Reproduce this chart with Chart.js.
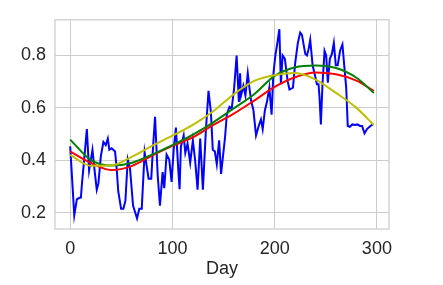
<!DOCTYPE html>
<html>
<head>
<meta charset="utf-8">
<script src="https://cdn.jsdelivr.net/npm/chart.js@4"></script>
<style>
  body { margin: 0; background: #fff; }
  canvas { display: block; }
</style>
</head>
<body>
<canvas id="grafica" width="443" height="285"></canvas>
<script>
// serie diaria (azul)
const diasDiarios = [0, 4, 6.5, 9, 10.5, 11.4, 13.7, 16.3, 18.5, 21.8, 23.7, 26, 27.6, 30, 32.5, 34.8, 36.8, 38.3, 40.6, 43.9,
  45.5, 47, 49.8, 52, 54, 56.3, 58.5, 61.5, 65.4, 67.6, 70, 72.8, 76.7, 79.3, 80.7, 83, 85.6, 87.8, 90.4, 92,
  94.3, 96.9, 99.2, 101.2, 103.4, 105.7, 107, 108.3, 111, 112.6, 114.8, 117.4, 120, 122.3, 124.6, 127.2, 129.8, 132.7, 135.3, 137.6,
  139.5, 141.5, 143.4, 145.7, 147.6, 151.5, 153.2, 155.8, 158, 160.3, 162.8, 165, 166.2, 167.1, 169.4, 171.4, 173.7, 175.3, 176.9, 179.2,
  181.8, 184.4, 186.6, 188.3, 190.5, 192.5, 194.8, 197, 198.7, 200.7, 202.9, 204.6, 206.1, 207.8, 210, 212.7, 214.5, 217.9, 220.2, 222.7,
  225, 226.7, 228.3, 230, 231.6, 233.2, 234.8, 237.1, 239.7, 241.3, 242.9, 243.9, 245.2, 246.8, 248.8, 250.4, 252, 254, 256, 257.9,
  259.8, 261.7, 264, 266.3, 268.3, 270, 271.5, 273.5, 276, 278.5, 281, 283.5, 285.5, 287.9, 290.5, 293.7, 296];
const valoresDiarios = [0.453, 0.19, 0.251, 0.257, 0.258, 0.306, 0.403, 0.519, 0.361, 0.44, 0.367, 0.288, 0.312, 0.416, 0.47, 0.458, 0.483, 0.44, 0.446, 0.434,
  0.367, 0.282, 0.215, 0.215, 0.245, 0.403, 0.37, 0.227, 0.178, 0.215, 0.215, 0.43, 0.33, 0.33, 0.428, 0.566, 0.343, 0.227, 0.355, 0.294,
  0.422, 0.403, 0.318, 0.44, 0.525, 0.367, 0.29, 0.452, 0.495, 0.428, 0.464, 0.391, 0.476, 0.397, 0.288, 0.483, 0.288, 0.513, 0.665, 0.586,
  0.44, 0.434, 0.385, 0.476, 0.348, 0.489, 0.574, 0.604, 0.598, 0.672, 0.8, 0.623, 0.732, 0.647, 0.684, 0.647, 0.732, 0.677, 0.629, 0.592,
  0.495, 0.531, 0.556, 0.519, 0.592, 0.623, 0.677, 0.574, 0.726, 0.8, 0.854, 0.9, 0.69, 0.8, 0.787, 0.702, 0.67, 0.677, 0.775, 0.848,
  0.887, 0.878, 0.842, 0.806, 0.8, 0.824, 0.86, 0.763, 0.72, 0.69, 0.69, 0.641, 0.537, 0.69, 0.818, 0.8, 0.696, 0.787, 0.806, 0.848,
  0.763, 0.763, 0.818, 0.842, 0.751, 0.677, 0.531, 0.528, 0.537, 0.535, 0.537, 0.531, 0.531, 0.503, 0.52, 0.531, 0.537];

// curvas suavizadas
const diasCurvas = [0, 20, 40, 60, 80, 100, 120, 140, 160, 180, 200, 220, 240, 260, 280, 297];
const valoresRojo = [0.434, 0.39, 0.363, 0.378, 0.418, 0.455, 0.488, 0.535, 0.578, 0.628, 0.68, 0.717, 0.735, 0.728, 0.704, 0.665];
const valoresVerde = [0.479, 0.402, 0.38, 0.39, 0.422, 0.458, 0.498, 0.545, 0.598, 0.652, 0.722, 0.755, 0.762, 0.752, 0.715, 0.657];
const valoresAmarillo = [0.421, 0.379, 0.38, 0.413, 0.455, 0.494, 0.535, 0.587, 0.652, 0.703, 0.725, 0.733, 0.708, 0.657, 0.6, 0.535];

// ticks de los ejes
const ticksX = [0, 100, 200, 300];
const ticksY = [0.2, 0.4, 0.6, 0.8];

const aPuntos = (xs, ys) => xs.map((x, i) => ({ x: x, y: ys[i] }));

const colorTexto = '#262626';
const colorGrilla = '#cccccc';
const fuente = { family: "'Liberation Sans', Arial, sans-serif", size: 18 };

// marco gris alrededor del area del grafico
const marco = {
  id: 'marco',
  afterDraw(chart) {
    const { ctx, chartArea } = chart;
    ctx.save();
    ctx.strokeStyle = colorGrilla;
    ctx.lineWidth = 1.25;
    ctx.strokeRect(chartArea.left, chartArea.top, chartArea.right - chartArea.left, chartArea.bottom - chartArea.top);
    ctx.restore();
  }
};

const curva = (datos, color) => ({
  data: aPuntos(diasCurvas, datos),
  borderColor: color,
  borderWidth: 2,
  pointRadius: 0,
  cubicInterpolationMode: 'monotone',
  fill: false
});

new Chart(document.getElementById('grafica'), {
  type: 'line',
  data: {
    datasets: [
      curva(valoresAmarillo, '#bfbf00'),
      curva(valoresVerde, '#008000'),
      curva(valoresRojo, '#ff0000'),
      {
        data: aPuntos(diasDiarios, valoresDiarios),
        borderColor: '#0000ff',
        borderWidth: 2,
        pointRadius: 0,
        tension: 0,
        fill: false
      }
    ]
  },
  options: {
    responsive: false,
    animation: false,
    layout: { padding: { top: 11, right: 54, left: 0, bottom: 0 } },
    plugins: { legend: { display: false }, tooltip: { enabled: false } },
    scales: {
      x: {
        type: 'linear',
        min: -14.85,
        max: 311.85,
        afterBuildTicks: (eje) => { eje.ticks = ticksX.map(v => ({ value: v })); },
        afterFit: (eje) => { eje.height = 56; },
        ticks: { color: colorTexto, font: fuente, padding: 9, maxRotation: 0 },
        grid: { color: colorGrilla, lineWidth: 1, drawTicks: false },
        border: { display: false },
        title: { display: true, text: 'Day', color: colorTexto, font: fuente, padding: { top: 2, bottom: 5 } }
      },
      y: {
        min: 0.138,
        max: 0.936,
        afterBuildTicks: (eje) => { eje.ticks = ticksY.map(v => ({ value: v })); },
        afterFit: (eje) => { eje.width = 55; },
        ticks: { color: colorTexto, font: fuente, padding: 9, callback: (v) => v.toFixed(1) },
        grid: { color: colorGrilla, lineWidth: 1, drawTicks: false },
        border: { display: false }
      }
    }
  },
  plugins: [marco]
});
</script>
</body>
</html>
